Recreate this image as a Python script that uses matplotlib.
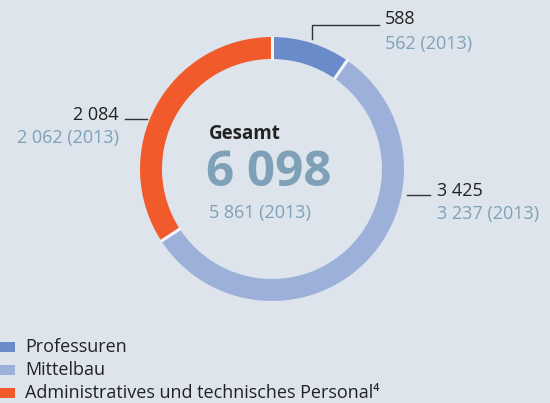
import matplotlib
matplotlib.use("Agg")
import matplotlib.pyplot as plt
import numpy as np

categories = ["Professuren", "Mittelbau", "Administratives und technisches Personal\u2074"]
values_2014 = [588, 3425, 2084]
values_2013 = [562, 3237, 2062]
total_2014 = "6 098"
total_2013 = "5 861 (2013)"
value_labels = ["588", "3 425", "2 084"]
prev_labels = ["562 (2013)", "3 237 (2013)", "2 062 (2013)"]
colors = ["#6a8bc9", "#9db0da", "#f15a2b"]

bg = "#dde4eb"
grey_blue = "#7fa1b8"
plt.rcParams['font.family'] = ['Open Sans', 'DejaVu Sans']

W, H = 550, 403
fig = plt.figure(figsize=(5.5, 4.03), dpi=100, facecolor=bg)
ax = fig.add_axes([0, 0, 1, 1])

def Y(y):
    return H - y

cx, cy, R, w = 272, 169, 132, 22
ax.pie(values_2014, colors=colors, startangle=90, counterclock=False,
       center=(cx, Y(cy)), radius=R, frame=True,
       wedgeprops=dict(width=w, linewidth=0))
# separators between slices
bounds = 90 - 360 * np.cumsum([0] + values_2014[:-1]) / sum(values_2014)
for a in bounds:
    t = np.deg2rad(a)
    ax.plot([cx + (R - w - 1) * np.cos(t), cx + (R + 1) * np.cos(t)],
            [Y(cy) + (R - w - 1) * np.sin(t), Y(cy) + (R + 1) * np.sin(t)],
            color='#f2f5f8', lw=2.2, solid_capstyle='butt')
ax.set_xlim(0, W)
ax.set_ylim(0, H)
ax.set_aspect('equal')
ax.axis('off')

# center text
ax.text(209, Y(134), "Gesamt", fontsize=13.5, fontweight='bold', color='#222222', va='center', ha='left')
ax.text(206, Y(174), total_2014, fontsize=35.5, fontweight='bold', color=grey_blue, va='center', ha='left')
ax.text(209, Y(213), total_2013, fontsize=13, color=grey_blue, va='center', ha='left')

# leader lines
lc = '#333333'
ax.plot([312, 312, 379], [Y(39), Y(25), Y(25)], color=lc, lw=1)
ax.plot([407, 430], [Y(195), Y(195)], color=lc, lw=1)
ax.plot([125, 147], [Y(119), Y(119)], color=lc, lw=1)

fs = 13
ax.text(385, Y(19), value_labels[0], fontsize=fs, color='#222222', va='center', ha='left')
ax.text(385, Y(44), prev_labels[0], fontsize=fs, color=grey_blue, va='center', ha='left')
ax.text(437, Y(191), value_labels[1], fontsize=fs, color='#222222', va='center', ha='left')
ax.text(437, Y(214), prev_labels[1], fontsize=fs, color=grey_blue, va='center', ha='left')
ax.text(119, Y(115), value_labels[2], fontsize=fs, color='#222222', va='center', ha='right')
ax.text(119, Y(138), prev_labels[2], fontsize=fs, color=grey_blue, va='center', ha='right')

# legend
for i, (lab, c) in enumerate(zip(categories, colors)):
    yy = 347 + i * 23
    ax.add_patch(plt.Rectangle((0, Y(yy) - 5), 15, 10, color=c, lw=0))
    ax.text(25, Y(yy), lab, fontsize=fs, color='#222222', va='center', ha='left')

fig.savefig("out.png", dpi=100, facecolor=bg)
